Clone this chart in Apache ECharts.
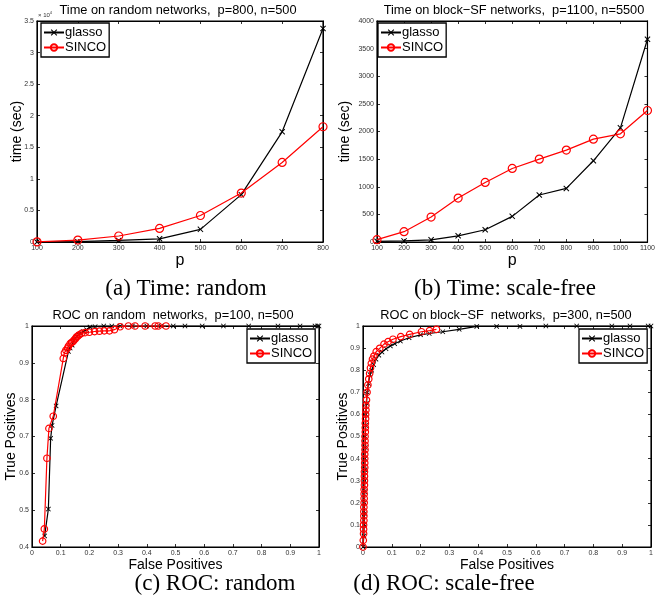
<!DOCTYPE html>
<html>
<head>
<meta charset="utf-8">
<script src="https://cdn.jsdelivr.net/npm/echarts@6/dist/echarts.min.js"></script>
<style>
html,body{margin:0;padding:0;background:#fff;}
#c{width:658px;height:598px;}
</style>
</head>
<body>
<div id="c"></div>
<script>
// ---- Data ----
var pRandom = [100, 200, 300, 400, 500, 600, 700, 800];
var glassoTimeRandom = [10, 50, 250, 500, 2000, 7500, 17450, 33800];
var sincoTimeRandom = [20, 300, 950, 2150, 4200, 7750, 12600, 18250];

var pSF = [100, 200, 300, 400, 500, 600, 700, 800, 900, 1000, 1100];
var glassoTimeSF = [12, 20, 40, 112, 222, 464, 850, 970, 1470, 2066, 3669];
var sincoTimeSF = [42, 187, 452, 795, 1078, 1331, 1500, 1663, 1861, 1958, 2380];

var glassoRocRandom = [[0.044,0.43],[0.057,0.503],[0.065,0.695],[0.07,0.73],[0.084,0.783],[0.127,0.931],[0.133,0.94],[0.14,0.948],[0.145,0.96],[0.15,0.966],[0.156,0.972],[0.163,0.976],[0.17,0.98],[0.18,0.985],[0.19,0.99],[0.202,0.997],[0.22,0.998],[0.25,1],[0.278,1],[0.307,1],[0.35,1],[0.40,1],[0.45,1],[0.492,1],[0.533,1],[0.593,1],[0.667,1],[0.755,1],[0.857,1],[0.934,1],[0.986,1],[0.995,1],[1,1]];
var sincoRocRandom = [[0.037,0.416],[0.043,0.449],[0.052,0.641],[0.059,0.722],[0.074,0.755],[0.109,0.912],[0.113,0.927],[0.118,0.934],[0.124,0.94],[0.127,0.945],[0.133,0.952],[0.138,0.955],[0.143,0.958],[0.147,0.962],[0.152,0.966],[0.155,0.97],[0.16,0.973],[0.165,0.976],[0.173,0.98],[0.185,0.982],[0.2,0.983],[0.218,0.985],[0.235,0.986],[0.252,0.987],[0.27,0.987],[0.287,0.99],[0.307,0.998],[0.336,1],[0.359,1],[0.394,1],[0.429,1],[0.44,1],[0.467,1]];

var glassoRocSF = [[0,0],[0.003,0.05],[0.004,0.10],[0.005,0.15],[0.005,0.20],[0.006,0.25],[0.006,0.30],[0.007,0.35],[0.007,0.40],[0.008,0.45],[0.008,0.50],[0.009,0.55],[0.010,0.60],[0.012,0.65],[0.015,0.70],[0.019,0.74],[0.024,0.78],[0.030,0.80],[0.037,0.825],[0.045,0.85],[0.055,0.868],[0.066,0.882],[0.080,0.897],[0.095,0.91],[0.11,0.92],[0.13,0.932],[0.16,0.947],[0.2,0.96],[0.23,0.966],[0.277,0.974],[0.334,0.985],[0.395,0.998],[0.464,0.998],[0.545,0.998],[0.635,1],[0.742,1],[0.864,1],[0.927,1],[0.99,1],[1,1]];
var sincoRocSF = [[0,0],[0.001,0.03],[0.002,0.06],[0.002,0.08],[0.002,0.10],[0.003,0.12],[0.003,0.14],[0.003,0.16],[0.003,0.18],[0.004,0.20],[0.004,0.22],[0.004,0.24],[0.004,0.26],[0.005,0.28],[0.005,0.30],[0.005,0.32],[0.005,0.34],[0.006,0.36],[0.006,0.38],[0.006,0.40],[0.006,0.42],[0.007,0.44],[0.007,0.46],[0.007,0.48],[0.007,0.50],[0.008,0.52],[0.008,0.54],[0.008,0.56],[0.009,0.58],[0.009,0.60],[0.010,0.62],[0.010,0.64],[0.012,0.665],[0.014,0.70],[0.017,0.733],[0.020,0.76],[0.023,0.785],[0.026,0.81],[0.029,0.831],[0.033,0.85],[0.038,0.864],[0.046,0.884],[0.058,0.899],[0.073,0.918],[0.087,0.929],[0.104,0.94],[0.131,0.952],[0.162,0.962],[0.203,0.974],[0.231,0.979],[0.255,0.985]];

var titles = ['Time on random networks,  p=800, n=500', 'Time on block\u2212SF networks,  p=1100, n=5500', 'ROC on random  networks,  p=100, n=500', 'ROC on block\u2212SF  networks,  p=300, n=500'];
var captions = ['(a) Time: random', '(b) Time: scale-free', '(c) ROC: random', '(d) ROC: scale-free'];
var seriesNames = ['glasso', 'SINCO'];

// ---- Layout ----
var grids = [
  {left: 37, top: 21, width: 286, height: 221},
  {left: 377, top: 21, width: 279, height: 221},
  {left: 32, top: 326, width: 287, height: 221},
  {left: 363, top: 326, width: 288, height: 221}
];
var xr = [{min:100,max:800,interval:100},{min:100,max:1100,interval:100},{min:0,max:1,interval:0.1},{min:0,max:1,interval:0.1}];
var yr = [{min:0,max:35000,interval:5000},{min:0,max:4000,interval:500},{min:0.4,max:1,interval:0.1},{min:0,max:1,interval:0.1}];
var xNames = ['p','p','False Positives','False Positives'];
var yNames = ['time (sec)','time (sec)','True Positives','True Positives'];
var xNameStyle = [{fontSize:16,gap:6},{fontSize:16,gap:6},{fontSize:14,gap:9},{fontSize:14,gap:9}];
var yNameGap = [13, 25, 14, 13];

var FONT = 'Liberation Sans, Arial, Helvetica, sans-serif';
var XPATH = 'path://M0,1.2 L1.2,0 L5,3.8 L8.8,0 L10,1.2 L6.2,5 L10,8.8 L8.8,10 L5,6.2 L1.2,10 L0,8.8 L3.8,5 Z';

function fmt(i){
  return function(v){
    if (i === 0) { return String(+(v/10000).toFixed(2)); }
    return String(+v.toFixed(2));
  };
}

var xAxes = [], yAxes = [];
for (var i = 0; i < 4; i++) {
  var common = {type:'value', gridIndex:i, splitLine:{show:false},
    axisLine:{show:true, onZero:false, lineStyle:{color:'#000', width:1}},
    axisTick:{show:true, inside:true, length:3, lineStyle:{color:'#000', width:0.8}}};
  xAxes.push(Object.assign({}, common, xr[i], {position:'bottom',
    name:xNames[i], nameLocation:'middle', nameGap:xNameStyle[i].gap,
    nameTextStyle:{fontSize:xNameStyle[i].fontSize, color:'#000', fontFamily:FONT, verticalAlign:'top'},
    axisLabel:{fontSize:7, color:'#333', margin:3, fontFamily:FONT, formatter: fmt(-1)}}));
  xAxes.push(Object.assign({}, common, xr[i], {position:'top', axisLabel:{show:false}}));
  yAxes.push(Object.assign({}, common, yr[i], {position:'left',
    name:yNames[i], nameLocation:'middle', nameGap:yNameGap[i], nameMoveOverlap:false,
    nameTextStyle:{fontSize:14, color:'#000', fontFamily:FONT},
    axisLabel:{fontSize:7, color:'#333', margin:3, fontFamily:FONT, formatter: fmt(i)}}));
  yAxes.push(Object.assign({}, common, yr[i], {position:'right', axisLabel:{show:false}}));
}

function mk(name, i, data, isGlasso, xSize, cSize){
  return {
    name: name, type: 'line', xAxisIndex: 2*i, yAxisIndex: 2*i, data: data,
    symbol: isGlasso ? XPATH : 'circle',
    symbolSize: isGlasso ? xSize : cSize,
    showAllSymbol: true,
    lineStyle: {color: isGlasso ? '#000' : '#ff0000', width: 1.2},
    itemStyle: isGlasso ? {color:'#000'} : {color:'rgba(255,255,255,0)', borderColor:'#ff0000', borderWidth:1.2},
    z: isGlasso ? 2 : 3,
    animation: false
  };
}
function zipXY(xs, ys){ return xs.map(function(x, k){ return [x, ys[k]]; }); }

var series = [
  mk('glasso', 0, zipXY(pRandom, glassoTimeRandom), true, 6, 8),
  mk('SINCO', 0, zipXY(pRandom, sincoTimeRandom), false, 6, 8),
  mk('glasso', 1, zipXY(pSF, glassoTimeSF), true, 6, 8),
  mk('SINCO', 1, zipXY(pSF, sincoTimeSF), false, 6, 8),
  mk('glasso', 2, glassoRocRandom, true, 5, 6.5),
  mk('SINCO', 2, sincoRocRandom, false, 5, 6.5),
  mk('glasso', 3, glassoRocSF, true, 5, 6.5),
  mk('SINCO', 3, sincoRocSF, false, 5, 6.5)
];

var legendPos = [{left:41, top:23},{left:378, top:23},{left:247, top:329},{left:579, top:329}];
var legends = legendPos.map(function(p){
  return Object.assign({
    data: seriesNames, orient:'vertical', itemWidth:20, itemHeight:8, itemGap:2,
    padding:[3,3,3,2], borderColor:'#000', borderWidth:1.3, backgroundColor:'#fff',
    textStyle:{fontSize:13, color:'#000', fontFamily:FONT, padding:[0,0,0,-4]},
    selectedMode:false, z:10
  }, p);
});

var titlePos = [[178,10],[514,10],[173,315],[506,315]];
var capPos = [[186,289],[505,289],[215,584],[444,584]];
var graphics = [];
for (var j = 0; j < 4; j++) {
  graphics.push({type:'text', x:titlePos[j][0], y:titlePos[j][1], z:20,
    style:{text:titles[j], font:'12.8px ' + FONT, fill:'#000', align:'center', verticalAlign:'middle'}});
  graphics.push({type:'text', x:capPos[j][0], y:capPos[j][1], z:20,
    style:{text:captions[j], font:'23px "Liberation Serif", "Times New Roman", serif', fill:'#000', align:'center', verticalAlign:'middle'}});
}
graphics.push({type:'text', x:38, y:15, z:20, style:{
  text:'{a|\u00d7 10}{b|4}', fill:'#333', verticalAlign:'middle',
  rich:{a:{fontSize:6, fontFamily:FONT, fill:'#333'}, b:{fontSize:4, fontFamily:FONT, fill:'#333', verticalAlign:'top', padding:[0,0,4,0]}}}});

var chart = echarts.init(document.getElementById('c'), null, {renderer:'canvas'});
chart.setOption({
  animation: false,
  backgroundColor: '#fff',
  grid: grids.map(function(g){ return Object.assign({show:true, borderColor:'#000', borderWidth:1.2, backgroundColor:'transparent'}, g); }),
  xAxis: xAxes,
  yAxis: yAxes,
  legend: legends,
  series: series,
  graphic: graphics
});
</script>
</body>
</html>
